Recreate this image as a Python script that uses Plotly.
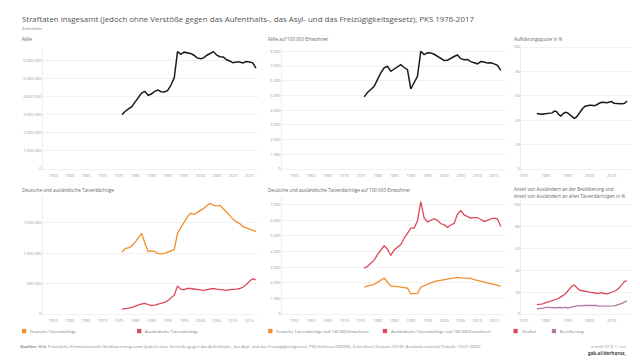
import plotly.graph_objects as go

years = list(range(1976, 2018))

faelle = [3.0e6, 3.2e6, 3.33e6, 3.45e6, 3.7e6, 3.95e6, 4.2e6, 4.3e6, 4.08e6, 4.15e6,
          4.3e6, 4.37e6, 4.28e6, 4.27e6, 4.35e6, 4.65e6, 5.05e6, 6.5e6, 6.35e6, 6.47e6,
          6.45e6, 6.4e6, 6.3e6, 6.15e6, 6.1e6, 6.15e6, 6.3e6, 6.4e6, 6.5e6, 6.3e6,
          6.22e6, 6.2e6, 6.05e6, 5.98e6, 5.88e6, 5.92e6, 5.92e6, 5.87e6, 5.95e6, 5.93e6,
          5.88e6, 5.58e6]

faelle_hz = [4900, 5200, 5400, 5620, 6070, 6530, 6870, 6980, 6640, 6800,
             6980, 7090, 6900, 6750, 5440, 5850, 6300, 8000, 7780, 7900,
             7880, 7800, 7650, 7500, 7380, 7400, 7550, 7650, 7750, 7500,
             7430, 7450, 7300, 7250, 7150, 7300, 7280, 7200, 7220, 7150,
             7050, 6700]

aufklaerung = [45.5, 45.0, 45.0, 45.2, 45.5, 45.8, 45.5, 46.0, 47.5, 47.0,
               44.5, 43.5, 45.5, 46.5, 46.0, 44.5, 43.0, 41.5, 42.5, 45.0,
               48.0, 50.0, 51.5, 52.0, 52.3, 52.2, 51.8, 52.5, 53.5, 54.5,
               54.7, 54.5, 54.3, 55.0, 55.3, 54.0, 53.7, 53.8, 53.5, 53.5,
               54.0, 55.8]

tv_deutsch = [1.02e6, 1.08e6, 1.09e6, 1.12e6, 1.18e6, 1.25e6, 1.33e6, 1.17e6, 1.03e6, 1.04e6,
              1.03e6, 1.0e6, 0.99e6, 1.0e6, 1.02e6, 1.04e6, 1.06e6, 1.33e6, 1.42e6, 1.52e6,
              1.6e6, 1.66e6, 1.64e6, 1.67e6, 1.7e6, 1.74e6, 1.79e6, 1.82e6, 1.79e6, 1.78e6,
              1.79e6, 1.74e6, 1.68e6, 1.62e6, 1.56e6, 1.52e6, 1.49e6, 1.44e6, 1.42e6, 1.39e6,
              1.37e6, 1.36e6]

tv_auslaend = [0.08e6, 0.085e6, 0.095e6, 0.11e6, 0.13e6, 0.15e6, 0.165e6, 0.175e6, 0.155e6, 0.14e6,
               0.145e6, 0.16e6, 0.175e6, 0.19e6, 0.22e6, 0.26e6, 0.31e6, 0.46e6, 0.41e6, 0.40e6,
               0.42e6, 0.42e6, 0.41e6, 0.40e6, 0.39e6, 0.39e6, 0.40e6, 0.41e6, 0.42e6, 0.41e6,
               0.40e6, 0.39e6, 0.39e6, 0.40e6, 0.40e6, 0.41e6, 0.42e6, 0.44e6, 0.48e6, 0.54e6,
               0.58e6, 0.56e6]

tv_deutsch_hz = [1720, 1800, 1850, 1900, 2050, 2200, 2300, 2050, 1780, 1780,
                 1760, 1720, 1700, 1660, 1300, 1300, 1320, 1720, 1820, 1920,
                 2000, 2080, 2120, 2160, 2180, 2200, 2240, 2300, 2350, 2320,
                 2300, 2300, 2280, 2200, 2150, 2100, 2050, 2000, 1950, 1880,
                 1820, 1780]

tv_auslaend_hz = [2940, 3050, 3250, 3450, 3800, 4100, 4370, 4150, 3750, 4100,
                  4250, 4450, 4850, 5150, 5500, 5500, 5950, 7200, 6150, 5900,
                  6000, 6100, 6000, 5780, 5720, 5550, 5700, 5800, 6400, 6630,
                  6350, 6250, 6150, 6180, 6180, 6050, 5930, 6000, 6100, 6140,
                  6100, 5600]

anteil_straftat = [8.5, 8.5, 9.0, 9.5, 10.5, 11.0, 11.5, 12.0, 12.5, 13.5,
                   14.5, 15.5, 17.0, 18.5, 21.0, 23.5, 25.5, 26.5, 24.0, 22.5,
                   21.5, 21.3, 21.0, 20.5, 20.0, 19.5, 19.2, 19.0, 18.8, 19.5,
                   19.0, 18.5, 18.5, 19.0, 19.8, 20.5, 21.5, 23.0, 25.0, 27.5,
                   30.0, 30.0]

anteil_bevoelkerung = [4.6, 4.7, 4.9, 5.4, 6.0, 6.2, 6.0, 5.8, 5.6, 5.7,
                       6.0, 5.5, 5.7, 6.2, 5.3, 6.0, 6.6, 7.0, 7.3, 7.6,
                       7.8, 7.9, 7.8, 7.8, 7.8, 7.9, 7.9, 7.8, 7.2, 7.2,
                       7.1, 7.1, 7.0, 7.0, 7.1, 7.4, 7.8, 8.3, 9.0, 10.0,
                       11.2, 11.8]

ticks_year_wide = list(range(1955, 2016, 5))
ticks_year_narrow = list(range(1970, 2011, 10))

BLACK = "#1a1a1a"
ORANGE = "#F28E2B"
RED = "#DC4A5A"
PURPLE = "#B07AA1"
FONT = "Open Sans"
W, H = 640, 360


def px(x):
    return x / W


def py(y):
    return 1 - y / H


fig = go.Figure()


def line(x, y, color, n, width=1.5):
    sfx = "" if n == 1 else str(n)
    fig.add_trace(go.Scatter(x=x, y=y, mode="lines", line=dict(color=color, width=width),
                             xaxis="x" + sfx, yaxis="y" + sfx, showlegend=False,
                             hoverinfo="skip"))


line(years, faelle, BLACK, 1)
line(years, faelle_hz, BLACK, 2)
line(years, aufklaerung, BLACK, 3)
line(years, tv_deutsch, ORANGE, 4, 1.3)
line(years, tv_auslaend, RED, 4, 1.3)
line(years, tv_deutsch_hz, ORANGE, 5, 1.3)
line(years, tv_auslaend_hz, RED, 5, 1.3)
line(years, anteil_straftat, RED, 6, 1.3)
line(years, anteil_bevoelkerung, PURPLE, 6, 1.3)

tickfont = dict(family=FONT, size=4, color="#9a9a9a")
GRID = "#f2f2f2"

panels = [
    ((33, 250), (40, 164), [1951.8, 2018.0], [-166000, 6700000], ticks_year_wide,
     [0, 1e6, 2e6, 3e6, 4e6, 5e6, 6e6], ""),
    ((273, 498), (40, 164), [1951.4, 2018.7], [-204, 8226], ticks_year_wide,
     [0, 1000, 2000, 3000, 4000, 5000, 6000, 7000, 8000], ""),
    ((513, 628), (36, 164), [1969.0, 2021.1], [-2.46, 102.5], ticks_year_narrow,
     [0, 20, 40, 60, 80, 100], "%"),
    ((33, 250), (188, 309), [1951.8, 2018.0], [-49400, 1944000], ticks_year_wide,
     [0, 500000, 1000000, 1500000], ""),
    ((273, 498), (188, 309), [1951.4, 2018.7], [-192, 7559], ticks_year_wide,
     [0, 1000, 2000, 3000, 4000, 5000, 6000, 7000], ""),
    ((513, 628), (192, 309), [1969.0, 2021.1], [-2.74, 104.3], ticks_year_narrow,
     [0, 20, 40, 60, 80, 100], "%"),
]

layout_axes = {}
for i, (xd, yd, xr, yr, xt, yt, suf) in enumerate(panels, start=1):
    sfx = "" if i == 1 else str(i)
    layout_axes["xaxis" + sfx] = dict(
        domain=[px(xd[0]), px(xd[1])], range=xr, tickvals=xt, showgrid=False,
        zeroline=False, showline=False, ticks="", tickfont=tickfont,
        anchor="y" + sfx, fixedrange=True)
    layout_axes["yaxis" + sfx] = dict(
        domain=[py(yd[1]), py(yd[0])], range=yr, tickvals=yt, showgrid=True,
        gridcolor=GRID, gridwidth=0.6, zeroline=False, showline=True, linecolor="#eeeeee",
        linewidth=0.6, ticks="", tickfont=tickfont, tickformat=",d", ticksuffix=suf,
        anchor="x" + sfx, fixedrange=True)

annotations = []


def text(x, y, s, size=4.6, color="#666666", xanchor="left", yanchor="middle", bold=False):
    if bold:
        s = "<b>" + s + "</b>"
    annotations.append(dict(x=px(x), y=py(y), xref="paper", yref="paper", text=s,
                            showarrow=False, xanchor=xanchor, yanchor=yanchor,
                            font=dict(family=FONT, size=size, color=color), align="left"))


text(10, 11, "Straftaten insgesamt (jedoch ohne Verstöße gegen das Aufenthalts-, das Asyl- und das Freizügigkeitsgesetz), PKS 1976-2017",
     size=7.9, color="#555555")
text(10, 20, "Zeitreihen", size=4.2, color="#777777")
text(10, 30.7, "Fälle")
text(256.5, 30.7, "Fälle auf 100 000 Einwohner")
text(503.5, 30.7, "Aufklärungsquote in %")
text(10, 181.7, "Deutsche und ausländische Tatverdächtige")
text(256.5, 181.7, "Deutsche und ausländische Tatverdächtige auf 100 000 Einwohner")
text(503.5, 181, "Anteil von Ausländern an der Bevölkerung und")
text(503.5, 188.3, "Anteil von Ausländern an allen Tatverdächtigen in %")

legend_items = [
    (12, "Deutsche Tatverdächtige", ORANGE),
    (127.5, "Ausländische Tatverdächtige", RED),
    (259, "Deutsche Tatverdächtige (auf 100 000 Einwohner)", ORANGE),
    (374, "Ausländische Tatverdächtige (auf 100 000 Einwohner)", RED),
    (505, "Straftat", RED),
    (543.5, "Bevölkerung", PURPLE),
]
shapes = []
for lx, label, col in legend_items:
    shapes.append(dict(type="rect", xref="paper", yref="paper", x0=px(lx), x1=px(lx + 4.3),
                       y0=py(325.2), y1=py(320.9), fillcolor=col, line=dict(width=0)))
    text(lx + 6.3, 323, label, size=4, color="#777777")

text(8, 338.5, "<b>Quellen:</b> BKA: Polizeiliche Kriminalstatistik (Straftaten insgesamt (jedoch ohne Verstöße gegen das Aufenthalts-, das Asyl- und das Freizügigkeitsgesetz), PKS-Schlüssel 890000, Zeitreihen); Destatis (2018): Ausländerstatistik (Tabelle 12521-0002)",
     size=4.1, color="#888888")
text(621, 338, "erstellt 2018-11 von", size=3.8, color="#999999", xanchor="right")
text(621, 344.5, "gab.ai/derhorus_", size=4.6, color="#444444", xanchor="right", bold=True)

fig.update_layout(
    width=W, height=H, margin=dict(l=0, r=0, t=0, b=0),
    paper_bgcolor="white", plot_bgcolor="white",
    separators=",.", showlegend=False,
    font=dict(family=FONT),
    annotations=annotations, shapes=shapes,
    **layout_axes,
)

fig.write_html("out.html")
